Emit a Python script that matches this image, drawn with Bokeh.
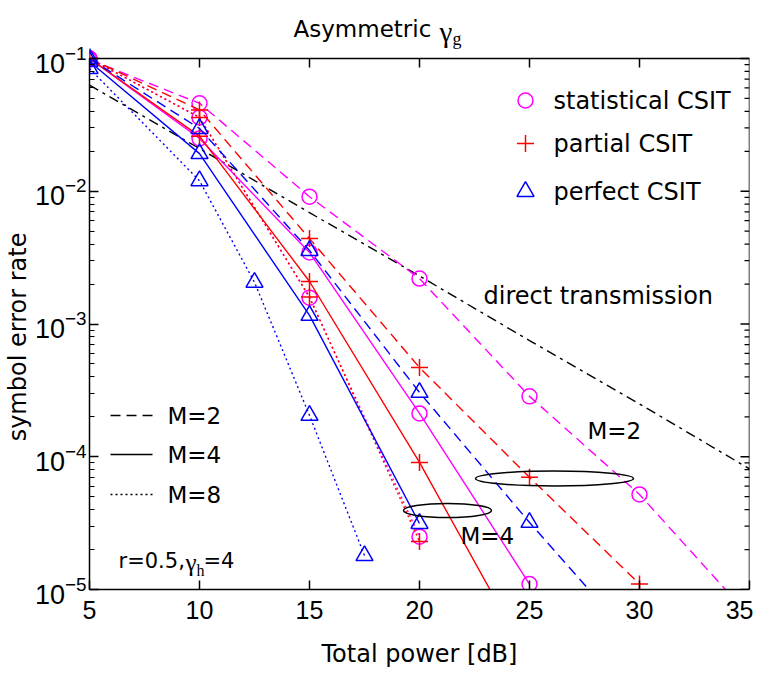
from bokeh.plotting import figure
from bokeh.models import Label, FixedTicker, Range1d
from bokeh.embed import file_html
from bokeh.resources import INLINE

# ---------------- data ----------------
x_direct = [5, 10, 15, 20, 25, 30, 35]
ser_direct = [6.3e-2, 2.1e-2, 6.9e-3, 2.3e-3, 7.5e-4, 2.5e-4, 8.1e-5]

x_stat_m2 = [5, 10, 15, 20, 25, 30, 35]
ser_stat_m2 = [0.098, 0.046, 9.1e-3, 2.2e-3, 2.85e-4, 5.2e-5, 6.3e-6]
x_stat_m4 = [5, 10, 15, 20, 25]
ser_stat_m4 = [0.1, 0.025, 3.46e-3, 2.12e-4, 1.1e-5]
x_stat_m8 = [5, 10, 15, 20]
ser_stat_m8 = [0.1, 0.036, 1.58e-3, 2.5e-5]

x_part_m2 = [5, 10, 15, 20, 25, 30]
ser_part_m2 = [0.1, 0.041, 4.4e-3, 4.7e-4, 7.0e-5, 1.1e-5]
x_part_m4 = [5, 10, 15, 20, 25]
ser_part_m4 = [0.1, 0.026, 2.09e-3, 9.06e-5, 2.9e-6]
x_part_m8 = [5, 10, 15, 20]
ser_part_m8 = [0.1, 0.036, 1.6e-3, 2.3e-5]

x_perf_m2 = [5, 10, 15, 20, 25, 30]
ser_perf_m2 = [0.1, 0.0297, 3.58e-3, 3.05e-4, 3.2e-5, 3.7e-6]
x_perf_m4 = [5, 10, 15, 20]
ser_perf_m4 = [0.095, 0.0192, 1.16e-3, 3.14e-5]
x_perf_m8 = [5, 10, 12.5, 15, 17.5]
ser_perf_m8 = [0.084, 0.012, 2.06e-3, 2.05e-4, 1.8e-5]

x_ticks = [5, 10, 15, 20, 25, 30, 35]
y_decades = [-5, -4, -3, -2, -1]
X_MIN, X_MAX = 5, 35
Y_MIN, Y_MAX = 1e-5, 1e-1

TICK_FONT = "Liberation Sans"
TEXT_FONT = "DejaVu Sans"
SERIF = "Liberation Serif"

# ---------------- placement helpers (annotation positions in pixels) ----------------
FRAME_L, FRAME_R, FRAME_T, FRAME_B = 89, 749, 58, 589


def px_x(px):
    return X_MIN + (px - FRAME_L) * (X_MAX - X_MIN) / (FRAME_R - FRAME_L)


def px_y(py):
    return 10 ** (-1 - (py - FRAME_T) * 4.0 / (FRAME_B - FRAME_T))


W, H = 753, 670
p = figure(width=W, height=H, y_axis_type="log",
           x_range=Range1d(X_MIN, X_MAX), y_range=Range1d(Y_MIN, px_y(0)),
           output_backend="svg", toolbar_location=None,
           min_border_left=FRAME_L, min_border_right=W - FRAME_R,
           min_border_top=0, min_border_bottom=H - FRAME_B)
p.grid.visible = False
p.outline_line_color = None
p.background_fill_color = "white"
p.border_fill_color = "white"

xa = p.xaxis[0]
xa.ticker = FixedTicker(ticks=x_ticks)
xa.major_tick_in = 9
xa.major_tick_out = 0
xa.minor_tick_line_color = None
xa.axis_line_width = 1.5
xa.axis_line_color = "black"
xa.major_tick_line_color = "black"
xa.major_tick_line_width = 1.5
xa.major_label_text_font = TICK_FONT
xa.major_label_text_font_size = "25px"
xa.major_label_text_color = "black"
xa.major_label_standoff = 11
xa.axis_label = "Total power [dB]"
xa.axis_label_text_font = TEXT_FONT
xa.axis_label_text_font_size = "24px"
xa.axis_label_text_font_style = "normal"
xa.axis_label_text_color = "black"
xa.axis_label_standoff = 18

ya = p.yaxis[0]
ya.bounds = (Y_MIN, Y_MAX)
ya.major_tick_in = 9
ya.major_tick_out = 0
ya.minor_tick_in = 5
ya.minor_tick_out = 0
ya.axis_line_width = 1.5
ya.axis_line_color = "black"
ya.major_tick_line_color = "black"
ya.minor_tick_line_color = "black"
ya.major_tick_line_width = 1.5
ya.minor_tick_line_width = 1.2
ya.major_label_text_font = TICK_FONT
ya.major_label_text_font_size = "27px"
ya.major_label_text_color = "black"
ya.major_label_standoff = 3
# trailing no-break spaces centre the visible words on the boxed area, as in the original
ya.axis_label = "symbol error rate" + "\u00a0" * 11
ya.axis_label_text_font = TEXT_FONT
ya.axis_label_text_font_size = "24px"
ya.axis_label_text_font_style = "normal"
ya.axis_label_text_color = "black"
ya.axis_label_standoff = 0

# ---- box: top and right edges with inward ticks ----
tick_dx = 9 * (X_MAX - X_MIN) / (FRAME_R - FRAME_L)
minor_dx = 5 * (X_MAX - X_MIN) / (FRAME_R - FRAME_L)
tick_fy = 10 ** (-9 * 4.0 / (FRAME_B - FRAME_T))
p.segment(x0=[X_MIN], y0=[Y_MAX], x1=[X_MAX], y1=[Y_MAX], line_color="black", line_width=1.5)
p.segment(x0=[X_MAX], y0=[Y_MIN], x1=[X_MAX], y1=[Y_MAX], line_color="black", line_width=1.5)
top_t = x_ticks[1:-1]
p.segment(x0=top_t, y0=[Y_MAX] * len(top_t), x1=top_t, y1=[Y_MAX * tick_fy] * len(top_t),
          line_color="black", line_width=1.5)
maj = [10.0 ** d for d in y_decades]
p.segment(x0=[X_MAX] * len(maj), y0=maj, x1=[X_MAX - tick_dx] * len(maj), y1=maj,
          line_color="black", line_width=1.5)
mins = [k * 10.0 ** d for d in y_decades[:-1] for k in range(2, 10)]
p.segment(x0=[X_MAX] * len(mins), y0=mins, x1=[X_MAX - minor_dx] * len(mins), y1=mins,
          line_color="black", line_width=1.2)

MAG, RED, BLUE = "#ff00ff", "#ff0000", "#0000ff"
DASH, SOLID, DOT, DASHDOT = "10 6", "solid", "2 3", "10 5 3 5"
LW = 1.4

p.line(x_direct, ser_direct, line_color="black", line_dash=DASHDOT, line_width=LW)

series = [
    (x_stat_m2, ser_stat_m2, MAG, DASH, "circle"),
    (x_stat_m4, ser_stat_m4, MAG, SOLID, "circle"),
    (x_stat_m8, ser_stat_m8, MAG, DOT, "circle"),
    (x_part_m2, ser_part_m2, RED, DASH, "cross"),
    (x_part_m4, ser_part_m4, RED, SOLID, "cross"),
    (x_part_m8, ser_part_m8, RED, DOT, "cross"),
    (x_perf_m2, ser_perf_m2, BLUE, DASH, "triangle"),
    (x_perf_m4, ser_perf_m4, BLUE, SOLID, "triangle"),
    (x_perf_m8, ser_perf_m8, BLUE, DOT, "triangle"),
]
MSIZE = {"circle": 15, "cross": 17, "triangle": 17}
for xs, ys, col, dash, mk in series:
    p.line(xs, ys, line_color=col, line_dash=dash, line_width=LW)
    p.scatter(xs, ys, marker=mk, size=MSIZE[mk], line_color=col, fill_color=None,
              line_width=1.5)

# ellipses marking M=2 and M=4 groups
p.ellipse(x=[px_x(447)], y=[px_y(510)], width=88, height=14,
          width_units="screen", height_units="screen",
          fill_color=None, line_color="black", line_width=1.5)
p.ellipse(x=[px_x(554)], y=[px_y(478)], width=158, height=15,
          width_units="screen", height_units="screen",
          fill_color=None, line_color="black", line_width=1.5)


def lab(text, px, py, size="24px", font=TEXT_FONT, align="left", baseline="middle"):
    p.add_layout(Label(x=px_x(px), y=px_y(py), text=text, text_font=font,
                       text_font_size=size, text_align=align,
                       text_baseline=baseline, text_color="black"))


lab("M=2", 587, 430, size="23px")
lab("M=4", 460, 535, size="23px")
lab("direct transmission", 483, 295)

# top-right marker legend
leg_items = [("circle", MAG, "statistical CSIT", 100),
             ("cross", RED, "partial CSIT", 143),
             ("triangle", BLUE, "perfect CSIT", 191)]
for mk, col, txt, py in leg_items:
    p.scatter([px_x(525)], [px_y(py)], marker=mk, size=MSIZE[mk], line_color=col,
              fill_color=None, line_width=1.5)
    lab(txt, 553, py)

# bottom-left line-style legend
for dash, txt, py in [(DASH, "M=2", 415), (SOLID, "M=4", 454), (DOT, "M=8", 494)]:
    p.line([px_x(110), px_x(152)], [px_y(py), px_y(py)], line_color="black",
           line_dash=dash, line_width=LW)
    lab(txt, 167, py, size="23px")

# parameter annotation r=0.5, gamma_h=4
lab("r=0.5,", 118, 560, size="21px")
lab("\u03b3", 185, 562, size="25px", font=SERIF)
lab("h", 196, 570, size="16px", font=SERIF)
lab("=4", 203, 560, size="21px")

# title "Asymmetric gamma_g"
lab("Asymmetric", 293, 28, size="23px")
lab("\u03b3", 439, 31, size="29px", font=SERIF)
lab("g", 452, 38, size="18px", font=SERIF)

open("out.html", "w").write(file_html(p, INLINE))
